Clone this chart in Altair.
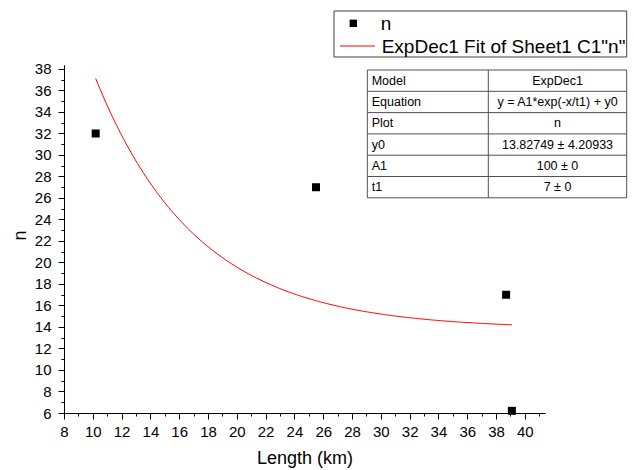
import altair as alt
import numpy as np
import pandas as pd

# ---- data ----
length_km = [10.2, 25.5, 38.7, 39.1]
n_values = [32, 27, 17, 6.2]

# fit parameters shown in the chart's table
fit_y0 = 13.82749
fit_A1 = 100
fit_t1 = 7

x_ticks_major = list(range(8, 41, 2))
x_ticks_minor = list(range(9, 42, 2))
y_ticks_major = list(range(6, 39, 2))
y_ticks_minor = list(range(7, 38, 2))

legend_labels = ["n", 'ExpDec1 Fit of Sheet1 C1"n"']
table_labels = ["Model", "Equation", "Plot", "y0", "A1", "t1"]
table_values = ["ExpDec1", "y = A1*exp(-x/t1) + y0", "n",
                "13.82749 ± 4.20933", "100 ± 0", "7 ± 0"]

FONT = "Liberation Sans"

points_df = pd.DataFrame({"x": length_km, "y": n_values})
fit_x = np.linspace(min(length_km), max(length_km), 200)
fit_df = pd.DataFrame({"x": fit_x, "y": fit_A1 * np.exp(-fit_x / fit_t1) + fit_y0})

xscale = alt.Scale(domain=[8, 41.4], nice=False, zero=False)
yscale = alt.Scale(domain=[6, 38.37], nice=False, zero=False)

common_axis = dict(domainColor="black", tickColor="black", labelColor="black",
                   titleColor="black", labelFont=FONT, titleFont=FONT,
                   grid=False, domainWidth=1, tickWidth=1)

x_major = alt.Axis(values=x_ticks_major, tickSize=6, labelFontSize=15,
                   labelPadding=5, title="Length (km)", titleFontSize=18,
                   titleFontWeight="normal", titleY=45, titleBaseline="middle",
                   orient="bottom", labelFlush=False, labelOverlap=False,
                   **common_axis)
y_major = alt.Axis(values=y_ticks_major, tickSize=6, labelFontSize=15,
                   labelPadding=7, title="n", titleFontSize=18,
                   titleFontWeight="normal", titleX=-44, titleY=170,
                   titleBaseline="middle", titleAlign="center", titleAngle=-90,
                   orient="left", labelFlush=False, labelOverlap=False,
                   **common_axis)
x_minor = alt.Axis(values=x_ticks_minor, tickSize=3, labels=False, title=None,
                   orient="bottom", **common_axis)
y_minor = alt.Axis(values=y_ticks_minor, tickSize=3, labels=False, title=None,
                   orient="left", **common_axis)

points = alt.Chart(points_df).mark_square(size=64, color="black", opacity=1).encode(
    x=alt.X("x:Q", scale=xscale, axis=x_major),
    y=alt.Y("y:Q", scale=yscale, axis=y_major),
)
fit = alt.Chart(fit_df).mark_line(color="#ff0000", strokeWidth=1).encode(
    x=alt.X("x:Q", scale=xscale, axis=x_minor),
    y=alt.Y("y:Q", scale=yscale, axis=y_minor),
)

one = pd.DataFrame({"_": [0]})
layers = [points, fit]

# legend (positions relative to the plot area)
layers.append(alt.Chart(one).mark_rect(fill="white", stroke="#404040", strokeWidth=1).encode(
    x=alt.value(270), x2=alt.value(562.7), y=alt.value(-54), y2=alt.value(-8)))
layers.append(alt.Chart(one).mark_square(size=54, color="black", opacity=1).encode(
    x=alt.value(289.3), y=alt.value(-41.7)))
layers.append(alt.Chart(one).mark_rule(color="#ff0000", strokeWidth=1).encode(
    x=alt.value(276), x2=alt.value(311), y=alt.value(-19)))
for lab, lx, ly in zip(legend_labels, [316.7, 317.7], [-41, -18.5]):
    layers.append(alt.Chart(one).mark_text(text=lab, align="left", baseline="middle",
                                           font=FONT, fontSize=19, color="black").encode(
        x=alt.value(lx), y=alt.value(ly)))

# fit results table
t_left, t_right, t_top, row_h, t_div = 303.3, 562.7, 5, 21.3, 424.3
t_bottom = t_top + row_h * len(table_labels)
layers.append(alt.Chart(one).mark_rect(fill="white", stroke="#505050", strokeWidth=1).encode(
    x=alt.value(t_left), x2=alt.value(t_right), y=alt.value(t_top), y2=alt.value(t_bottom)))
for k in range(1, len(table_labels)):
    yy = t_top + k * row_h
    layers.append(alt.Chart(one).mark_rule(color="#505050", strokeWidth=1).encode(
        x=alt.value(t_left), x2=alt.value(t_right), y=alt.value(yy)))
layers.append(alt.Chart(one).mark_rule(color="#505050", strokeWidth=1).encode(
    x=alt.value(t_div), y=alt.value(t_top), y2=alt.value(t_bottom)))
for k, (lab, val) in enumerate(zip(table_labels, table_values)):
    cy = t_top + (k + 0.5) * row_h
    layers.append(alt.Chart(one).mark_text(text=lab, align="left", baseline="middle",
                                           font=FONT, fontSize=12.5, color="black").encode(
        x=alt.value(t_left + 4.4), y=alt.value(cy)))
    layers.append(alt.Chart(one).mark_text(text=val, align="center", baseline="middle",
                                           font=FONT, fontSize=12.5, color="black").encode(
        x=alt.value((t_div + t_right) / 2), y=alt.value(cy)))

chart = alt.layer(*layers).resolve_axis(x="independent", y="independent").properties(
    width=481, height=348,
    autosize=alt.AutoSizeParams(type="none"),
    padding={"left": 64, "top": 65, "right": 89, "bottom": 57},
    background="white",
).configure_view(stroke=None)

chart.save("out.html", embed_options={"renderer": "svg", "actions": False})
